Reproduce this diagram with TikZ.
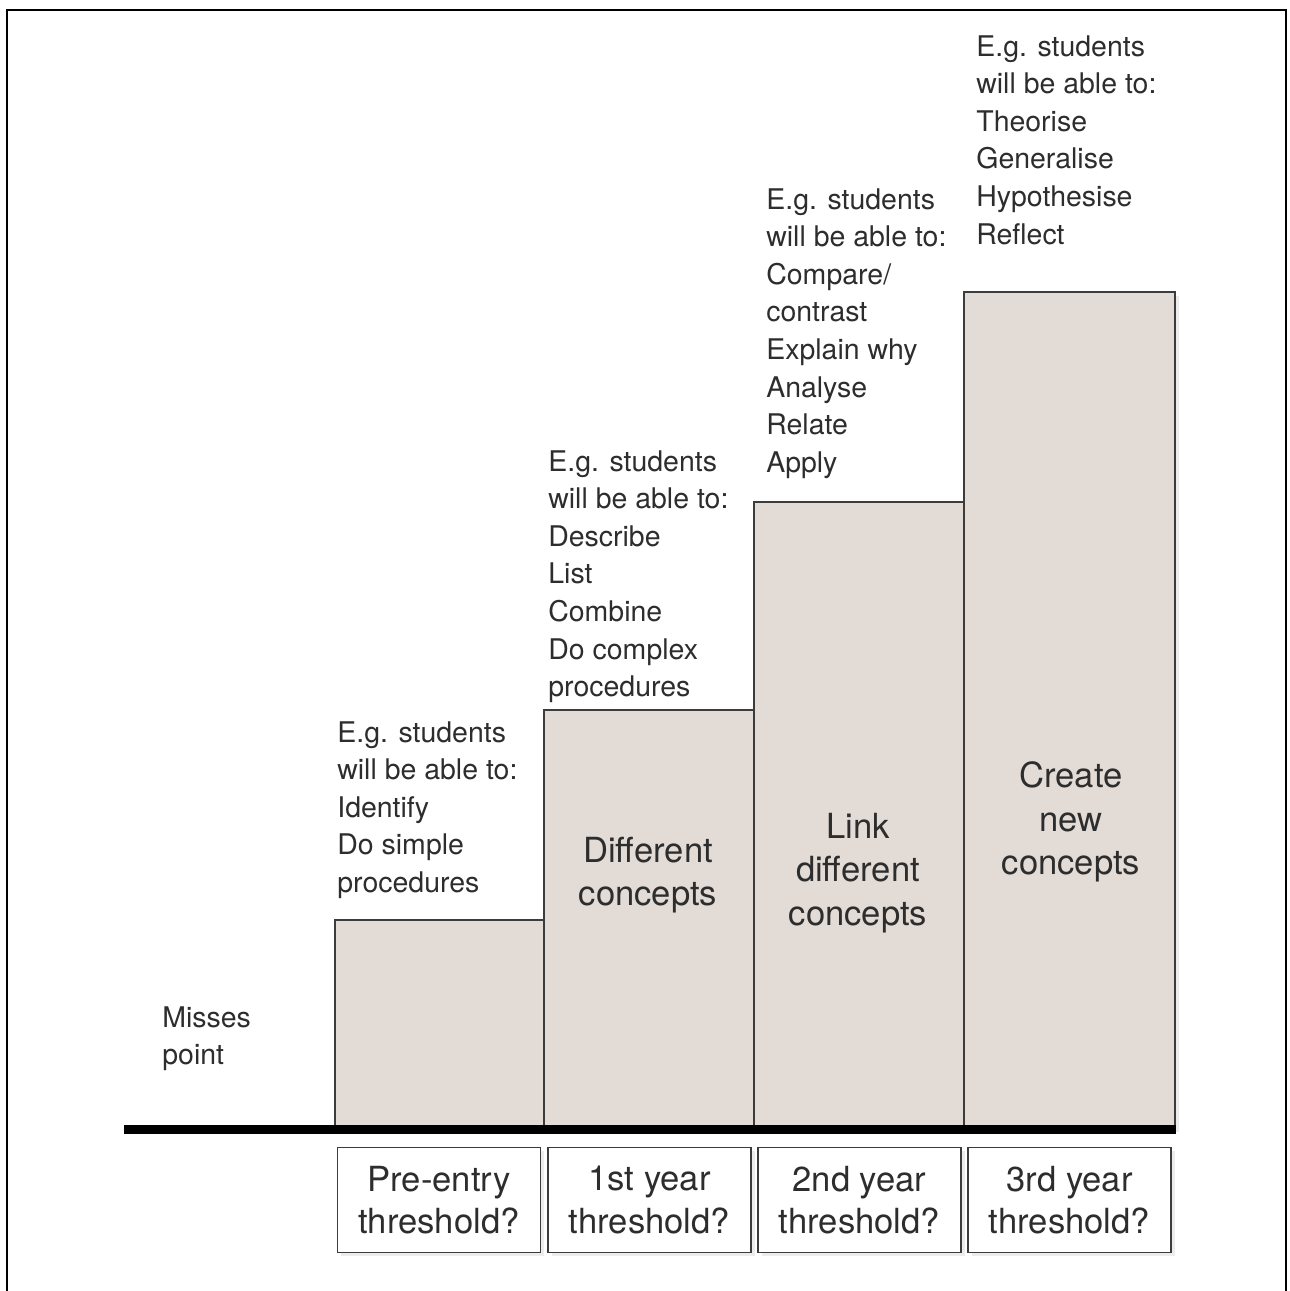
\documentclass[tikz,border=0pt]{standalone}
\usepackage{fontspec}
\setmainfont{TeX Gyre Heros}
\usetikzlibrary{shadows}
\definecolor{barfill}{RGB}{226,219,214}
\definecolor{inkgray}{RGB}{45,45,45}
\definecolor{edgegray}{RGB}{60,60,60}
\tikzset{
  barbox/.style={draw=edgegray,line width=1.1pt,fill=barfill,
    drop shadow={opacity=0.15,shadow xshift=2pt,shadow yshift=-2pt}},
  yearbox/.style={draw=edgegray,line width=1.1pt,fill=white,align=center,
    minimum width=4.06cm,minimum height=2.1cm,inner sep=0pt,
    font=\fontsize{19.7}{24}\selectfont,text=inkgray,
    drop shadow={opacity=0.15,shadow xshift=2pt,shadow yshift=-2pt}},
  skills/.style={anchor=north west,align=left,inner sep=0pt,text=inkgray,
    font=\fontsize{16.2}{21.4}\selectfont},
  concept/.style={align=center,inner sep=0pt,text=inkgray,
    font=\fontsize{19.7}{24.9}\selectfont}
}
\begin{document}
\begin{tikzpicture}[x=0.02cm,y=-0.02cm]
        \useasboundingbox (0,0) rectangle (1289,1291);
        % Frame
        \draw[line width=1.6pt] (7,1291) -- (7,10) -- (1286,10) -- (1286,1291);
        % Bars
        \draw[barbox] (335,920) rectangle (544,1128);
        \draw[barbox] (544,710) rectangle (754,1128);
        \draw[barbox] (754,502) rectangle (964,1128);
        \draw[barbox] (964,292) rectangle (1175,1128);
        % Baseline
        \draw[line width=5.6pt] (124,1129.5) -- (1176,1129.5);
        % Text above the bars
        \node[skills] (misses) at (162,1006) {Misses\\point};
        \node[skills] (pre) at (337,721) {E.g. students\\will be able to:\\Identify\\Do simple\\procedures};
        \node[skills] (first) at (548,450) {E.g. students\\will be able to:\\Describe\\List\\Combine\\Do complex\\procedures};
        \node[skills] (second) at (766,188) {E.g. students\\will be able to:\\Compare/\\contrast\\Explain why\\Analyse\\Relate\\Apply};
        \node[skills] (third) at (976,35) {E.g. students\\will be able to:\\Theorise\\Generalise\\Hypothesise\\Reflect};
        % Text in the bars
        \node[concept] (diff) at (648,875) {Different\\concepts};
        \node[concept] (link) at (858,873) {Link\\different\\concepts};
        \node[concept] (create) at (1071,822) {Create\\new\\concepts};
        % Thresholds
        \node[yearbox] (t0) at (439,1200) {Pre-entry\\threshold?};
        \node[yearbox] (t1) at (649.5,1200) {1st year\\threshold?};
        \node[yearbox] (t2) at (859.5,1200) {2nd year\\threshold?};
        \node[yearbox] (t3) at (1069.5,1200) {3rd year\\threshold?};
    \end{tikzpicture}
\end{document}
